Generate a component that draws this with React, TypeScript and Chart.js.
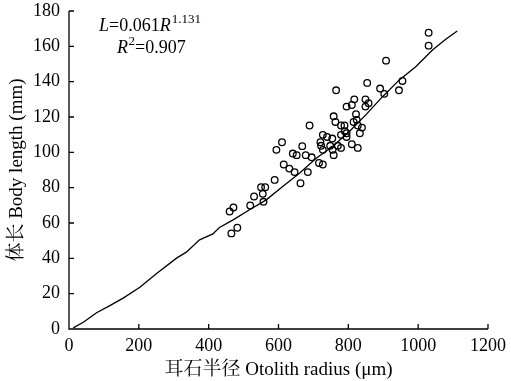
import React, { useEffect, useRef } from "react";
import { Chart, registerables } from "chart.js";

Chart.register(...registerables);

const otolithRadius = [460, 471, 465, 482, 519, 530, 550, 562, 555, 557, 589, 594, 610, 615, 631, 646, 641, 652, 663, 668, 678, 684, 689, 695, 716, 720, 722, 727, 727, 727, 739, 748, 754, 755, 758, 758, 763, 765, 770, 779, 779, 779, 789, 790, 795, 795, 795, 810, 810, 815, 817, 822, 824, 827, 827, 833, 839, 849, 849, 858, 854, 891, 903, 908, 945, 955, 1030, 1030];
const bodyLength = [66.5, 68.8, 54.1, 57.3, 69.9, 75, 80.3, 80.3, 76.5, 72, 84.4, 101.4, 105.7, 93.1, 90.8, 88.8, 99.3, 98.4, 82.5, 103.5, 98.4, 88.8, 115.2, 97.2, 94, 105.7, 103.7, 109.9, 101.4, 93.1, 108.7, 103.7, 107.8, 101.4, 98.4, 120.4, 117.2, 135.1, 103.7, 102.5, 115.2, 109.9, 115.2, 112, 108.7, 110.8, 125.9, 126.8, 104.6, 117.2, 130, 121.6, 118.4, 115.2, 102.5, 110.8, 114, 130, 125.9, 127.8, 139.3, 136.1, 133.1, 151.9, 135.1, 140.4, 167.7, 160.4];

const fitRadius = [12, 41, 79, 117, 155, 203, 250, 308, 336, 374, 412, 431, 470, 517, 565, 612, 660, 708, 755, 803, 850, 898, 946, 993, 1041, 1079, 1112];
const fitLength = [0.6, 3.8, 9.2, 13.2, 17.5, 23.6, 31.3, 40.1, 43.5, 50.5, 53.8, 57.5, 61.8, 67.5, 73.1, 80.7, 88.2, 96.7, 103.3, 111.8, 121.2, 131.5, 141, 148.5, 157.9, 164, 168.7];

const xTicks = [0, 200, 400, 600, 800, 1000, 1200];
const yTicks = [0, 20, 40, 60, 80, 100, 120, 140, 160, 180];

const FONT = "'Liberation Serif', 'Noto Serif CJK SC', 'Noto Sans CJK SC', serif";

const tickPlugin = {
  id: "inwardTicks",
  afterDraw(chart: any) {
    const ctx = chart.ctx;
    const xs = chart.scales.x;
    const ys = chart.scales.y;
    const area = chart.chartArea;
    ctx.save();
    ctx.strokeStyle = "#000";
    ctx.lineWidth = 1.3;
    ctx.beginPath();
    ctx.moveTo(area.left, area.top);
    ctx.lineTo(area.left, area.bottom);
    ctx.lineTo(area.right, area.bottom);
    for (const v of xTicks) {
      const px = xs.getPixelForValue(v);
      ctx.moveTo(px, area.bottom);
      ctx.lineTo(px, area.bottom - 5);
    }
    for (const v of yTicks) {
      const py = ys.getPixelForValue(v);
      ctx.moveTo(area.left, py);
      ctx.lineTo(area.left + 5, py);
    }
    ctx.stroke();

    // equation annotation
    ctx.fillStyle = "#000";
    ctx.textBaseline = "alphabetic";
    const draw = (text: string, x: number, y: number, style: string) => {
      ctx.font = style;
      ctx.fillText(text, x, y);
      return x + ctx.measureText(text).width;
    };
    const normal = `18px ${FONT}`;
    const italic = `italic 18px ${FONT}`;
    const sup = `13px ${FONT}`;
    let x = area.left + 30;
    let y = area.top + 20;
    x = draw("L", x, y, italic);
    x = draw("=0.061", x, y, normal);
    x = draw("R", x, y, italic);
    draw("1.131", x + 1, y - 8, sup);

    x = area.left + 48;
    y = area.top + 42;
    x = draw("R", x, y, italic);
    x = draw("2", x + 0.5, y - 8, sup);
    draw("=0.907", x, y, normal);
    ctx.restore();
  },
};

export default function App() {
  const ref = useRef<HTMLCanvasElement | null>(null);
  useEffect(() => {
    if (!ref.current) return;
    const chart = new Chart(ref.current, {
      type: "scatter",
      data: {
        datasets: [
          {
            type: "line",
            data: fitRadius.map((r, i) => ({ x: r, y: fitLength[i] })),
            borderColor: "#000",
            borderWidth: 1.3,
            pointRadius: 0,
            tension: 0,
            fill: false,
          } as any,
          {
            type: "scatter",
            data: otolithRadius.map((r, i) => ({ x: r, y: bodyLength[i] })),
            borderColor: "#000",
            backgroundColor: "rgba(255,255,255,0)",
            borderWidth: 1.3,
            pointRadius: 3.3,
            pointHoverRadius: 3.3,
          },
        ],
      },
      options: {
        animation: false,
        responsive: false,
        maintainAspectRatio: false,
        layout: { padding: { left: 0, top: 11, right: 23, bottom: 0 } },
        plugins: { legend: { display: false }, tooltip: { enabled: false } },
        scales: {
          x: {
            type: "linear",
            min: 0,
            max: 1200,
            afterBuildTicks: (s: any) => {
              s.ticks = xTicks.map((v) => ({ value: v }));
            },
            afterFit: (s: any) => {
              s.height = 52;
              s.paddingLeft = 0;
              s.paddingRight = 0;
            },
            grid: { display: false, drawTicks: false },
            border: { display: false },
            ticks: {
              color: "#000",
              padding: 6,
              font: { family: FONT, size: 18 },
              callback: (v: any) => String(v),
            },
            title: {
              display: true,
              text: "耳石半径 Otolith radius (μm)",
              color: "#000",
              font: { family: FONT, size: 19 },
              padding: { top: 0, bottom: 0 },
            },
          },
          y: {
            type: "linear",
            min: 0,
            max: 180,
            afterBuildTicks: (s: any) => {
              s.ticks = yTicks.map((v) => ({ value: v }));
            },
            afterFit: (s: any) => {
              s.width = 69;
              s.paddingTop = 0;
              s.paddingBottom = 0;
            },
            grid: { display: false, drawTicks: false },
            border: { display: false },
            ticks: {
              color: "#000",
              padding: 9,
              font: { family: FONT, size: 18 },
              callback: (v: any) => String(v),
            },
            title: {
              display: true,
              text: "体长 Body length (mm)",
              color: "#000",
              font: { family: FONT, size: 19 },
              padding: { top: 6, bottom: 0 },
            },
          },
        },
      },
      plugins: [tickPlugin],
    });
    return () => chart.destroy();
  }, []);
  return (
    <div style={{ position: "fixed", left: 0, top: 0, width: 511, height: 381, background: "#fff" }}>
      <canvas ref={ref} width={511} height={381} style={{ width: 511, height: 381 }} />
    </div>
  );
}
